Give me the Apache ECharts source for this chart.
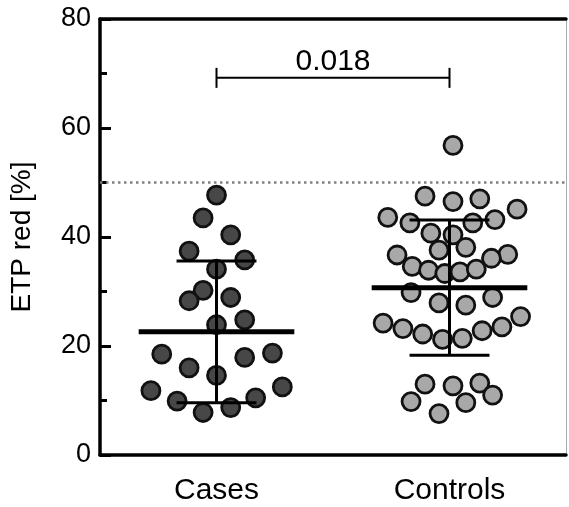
<!DOCTYPE html>
<html>
<head>
<meta charset="utf-8">
<script src="https://cdn.jsdelivr.net/npm/echarts@6/dist/echarts.min.js"></script>
<style>html,body{margin:0;padding:0;background:#fff}#c{width:569px;height:507px}</style>
</head>
<body>
<div id="c"></div>
<script>
var categories = ['Cases', 'Controls'];
var groupX = [1, 3];
var yTicks = [0, 20, 40, 60, 80];
var thresholdY = 50;

var casesY = [47.7, 43.5, 40.4, 37.4, 35.8, 34.1, 30.2, 28.3, 28.9, 24.8, 23.9, 18.5, 17.9, 18.7, 16.0, 14.6, 11.8, 12.5, 9.9, 10.5, 7.8, 8.7];
var casesJitter = [0, -0.115, 0.122, -0.235, 0.242, 0, -0.115, -0.235, 0.122, 0.242, 0, -0.47, 0.242, 0.48, -0.235, 0, -0.563, 0.565, -0.338, 0.336, -0.115, 0.122];

var controlsY = [56.8, 47.5, 46.5, 47.0, 43.6, 42.6, 42.6, 43.2, 45.1, 40.7, 40.4, 37.6, 38.1, 36.7, 36.8, 36.1, 34.6, 33.9, 33.3, 33.6, 34.1, 29.8, 27.9, 27.5, 28.9, 24.2, 23.2, 22.2, 21.2, 21.4, 22.8, 23.5, 25.4, 13.0, 12.7, 13.2, 9.8, 9.6, 11.0, 7.6];
var controlsJitter = [0.03, -0.21, 0.03, 0.26, -0.53, -0.34, 0.20, 0.39, 0.58, -0.16, 0.03, -0.09, 0.14, -0.45, 0.50, 0.36, -0.32, -0.18, -0.04, 0.09, 0.23, -0.33, -0.09, 0.14, 0.37, -0.57, -0.40, -0.23, -0.06, 0.11, 0.28, 0.45, 0.61, -0.21, 0.03, 0.26, -0.33, 0.14, 0.37, -0.09];

var means = [22.6, 30.7];
var sds = [13.0, 12.4];

var pValue = '0.018';
var bracketY = 69.2;

var FONT = 'Liberation Sans, Arial, Helvetica, sans-serif';

function pts(xc, jit, ys) {
  return ys.map(function (y, i) { return [xc + jit[i], y]; });
}

var chart = echarts.init(document.getElementById('c'), null, {renderer: 'canvas'});
var option = {
  animation: false,
  backgroundColor: '#fff',
  grid: {left: 100, right: 2, top: 19, bottom: 52},
  xAxis: [{
    type: 'value', min: 0, max: 4, interval: 1,
    axisLine: {show: true, onZero: false, lineStyle: {color: '#000', width: 3.5}},
    axisTick: {show: false},
    splitLine: {show: false},
    axisLabel: {
      show: true, margin: 21, fontSize: 30, color: '#000', fontFamily: FONT,
      formatter: function (v) { var i = groupX.indexOf(v); return i >= 0 ? categories[i] : ''; }
    }
  }, {
    type: 'value', min: 0, max: 4, position: 'top',
    axisLine: {show: true, onZero: false, lineStyle: {color: '#000', width: 3.5}},
    axisTick: {show: false}, axisLabel: {show: false}, splitLine: {show: false}
  }],
  yAxis: [{
    type: 'value', min: yTicks[0], max: yTicks[yTicks.length - 1], interval: 20,
    name: 'ETP red [%]', nameLocation: 'middle', nameGap: 64,
    nameTextStyle: {fontSize: 28, color: '#000', fontFamily: FONT},
    axisLine: {show: true, onZero: false, lineStyle: {color: '#000', width: 3.5}},
    axisTick: {show: true, inside: true, length: 11, lineStyle: {color: '#000', width: 3}},
    minorTick: {show: true, splitNumber: 2, length: 7, lineStyle: {color: '#000', width: 3}},
    splitLine: {show: false},
    axisLabel: {fontSize: 27, color: '#000', fontFamily: FONT, margin: 9}
  }, {
    type: 'value', min: 0, max: 80, position: 'right',
    axisLine: {show: true, onZero: false, lineStyle: {color: '#aaa', width: 1}},
    axisTick: {show: false}, axisLabel: {show: false}, splitLine: {show: false}
  }],
  series: [{
    type: 'scatter', name: categories[0],
    data: pts(groupX[0], casesJitter, casesY),
    symbolSize: 18,
    itemStyle: {color: '#474747', borderColor: '#111', borderWidth: 2.8, opacity: 1},
    z: 3,
    markLine: {
      silent: true, symbol: 'none', label: {show: false},
      lineStyle: {color: '#808080', type: [2.5, 3.5], width: 2.5},
      data: [{yAxis: thresholdY}]
    }
  }, {
    type: 'scatter', name: categories[1],
    data: pts(groupX[1], controlsJitter, controlsY),
    symbolSize: 18,
    itemStyle: {color: '#a8a8a8', borderColor: '#111', borderWidth: 2.8, opacity: 1},
    z: 3
  }, {
    type: 'custom', z: 10,
    data: groupX.map(function (x, i) { return [x, means[i], sds[i]]; }),
    renderItem: function (params, api) {
      var x = api.value(0), m = api.value(1), s = api.value(2);
      var mw = 0.668, cw = 0.343;
      var a = api.coord([x - mw, m]), b = api.coord([x + mw, m]);
      var t = api.coord([x, m + s]), bo = api.coord([x, m - s]);
      var tl = api.coord([x - cw, m + s]), tr = api.coord([x + cw, m + s]);
      var bl = api.coord([x - cw, m - s]), br = api.coord([x + cw, m - s]);
      var st = {stroke: '#000', lineWidth: 3};
      return {type: 'group', children: [
        {type: 'line', shape: {x1: t[0], y1: t[1], x2: bo[0], y2: bo[1]}, style: st},
        {type: 'line', shape: {x1: tl[0], y1: tl[1], x2: tr[0], y2: tr[1]}, style: st},
        {type: 'line', shape: {x1: bl[0], y1: bl[1], x2: br[0], y2: br[1]}, style: st},
        {type: 'line', shape: {x1: a[0], y1: a[1], x2: b[0], y2: b[1]}, style: {stroke: '#000', lineWidth: 5}}
      ]};
    }
  }, {
    type: 'custom', z: 10,
    data: [[groupX[0], groupX[1], bracketY]],
    renderItem: function (params, api) {
      var l = api.coord([api.value(0), api.value(2)]);
      var r = api.coord([api.value(1), api.value(2)]);
      var st = {stroke: '#000', lineWidth: 2};
      return {type: 'group', children: [
        {type: 'line', shape: {x1: l[0], y1: l[1], x2: r[0], y2: r[1]}, style: st},
        {type: 'line', shape: {x1: l[0], y1: l[1] - 10, x2: l[0], y2: l[1] + 10}, style: st},
        {type: 'line', shape: {x1: r[0], y1: r[1] - 10, x2: r[0], y2: r[1] + 10}, style: st},
        {type: 'text', style: {text: pValue, x: (l[0] + r[0]) / 2, y: l[1] - 16, align: 'center', verticalAlign: 'middle', fontSize: 30, fontFamily: FONT, fill: '#000'}}
      ]};
    }
  }]
};
chart.setOption(option);
</script>
</body>
</html>
